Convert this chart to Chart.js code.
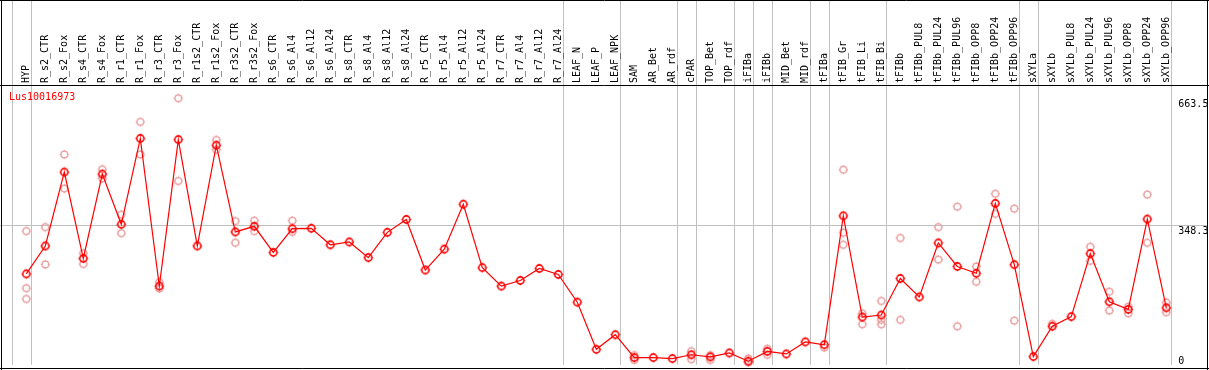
<!DOCTYPE html>
<html><head><meta charset="utf-8">
<script src="https://cdn.jsdelivr.net/npm/chart.js@4.4.1/dist/chart.umd.min.js"></script>
<style>html,body{margin:0;padding:0;background:#fff;overflow:hidden}canvas{display:block}</style>
</head><body>
<canvas id="c" width="1209" height="370"></canvas>
<script>
const categories = ['HYP','R_s2_CTR','R_s2_Fox','R_s4_CTR','R_s4_Fox','R_r1_CTR','R_r1_Fox','R_r3_CTR','R_r3_Fox','R_r1s2_CTR','R_r1s2_Fox','R_r3s2_CTR','R_r3s2_Fox','R_s6_CTR','R_s6_Al4','R_s6_Al12','R_s6_Al24','R_s8_CTR','R_s8_Al4','R_s8_Al12','R_s8_Al24','R_r5_CTR','R_r5_Al4','R_r5_Al12','R_r5_Al24','R_r7_CTR','R_r7_Al4','R_r7_Al12','R_r7_Al24','LEAF_N','LEAF_P','LEAF_NPK','SAM','AR_Bet','AR_rdf','cPAR','TOP_Bet','TOP_rdf','iFIBa','iFIBb','MID_Bet','MID_rdf','tFIBa','tFIB_Gr','tFIB_Li','tFIB_Bi','tFIBb','tFIBb_PUL8','tFIBb_PUL24','tFIBb_PUL96','tFIBb_OPP8','tFIBb_OPP24','tFIBb_OPP96','sXYLa','sXYLb','sXYLb_PUL8','sXYLb_PUL24','sXYLb_PUL96','sXYLb_OPP8','sXYLb_OPP24','sXYLb_OPP96'];
const meanValues = [226.5,296,480,265,475,350,564,196,561,296,547,331,345,280,339,340,299,306,267,330,362,236,288,400,242,196,210,240,225,156,38.5,75,18,18,15.5,25,19.6,29.4,9,33.5,27,57,50,371,119,124,215,169,303.5,245,228,402,249.5,20.4,96,120,277,157,138,363,142];
const rep1 = [333,343,524,278,487,374,605,206,664,null,560,358,359,null,359,null,null,null,null,null,null,null,null,null,null,null,null,null,null,null,null,null,24,null,null,34,24,null,16,40,null,null,43,486,128,159,316,null,343,394,245,426,389,null,102,null,294,182,145,424,155];
const rep2 = [191,250,439,251,464,328,524,190,458,null,536,304,333,null,331,null,null,null,null,null,null,null,null,null,null,null,null,null,null,null,null,null,12,null,null,14,12,null,6,25,null,null,null,329,101,112,112,null,262,96,207,376,110,null,null,null,259,135,128,304,131];
const rep3 = [164,null,null,null,null,null,null,null,null,null,null,null,null,null,null,null,null,null,null,null,null,null,null,null,null,null,null,null,null,null,null,null,null,null,null,null,null,null,null,null,null,null,null,299,null,101,null,null,null,null,null,null,null,null,null,null,null,null,null,null,null];
const yTickValues = [0, 348.3, 663.5];
const yTickLabels = ['0', '348.3', '663.5'];
const gridValues = [348.3];
const groupBreaks = [-1,0,28,31,34,35,37,38,39,41,42,45,52,53,60];
const geneName = 'Lus10016973';

function makeMarker(color, lw, r) {
  const s = 2 * Math.ceil(r + 3) + 1;
  const cv = document.createElement('canvas');
  cv.width = s; cv.height = s;
  const g = cv.getContext('2d');
  const c = s / 2;
  g.strokeStyle = color;
  g.lineWidth = lw;
  g.beginPath(); g.arc(c, c, r, 0, Math.PI * 2); g.stroke();
  g.lineWidth = 1;
  g.beginPath();
  g.moveTo(c, c - r - 1.2); g.lineTo(c, c - r);
  g.moveTo(c, c + r + 1.2); g.lineTo(c, c + r);
  g.moveTo(c - r - 1.2, c); g.lineTo(c - r, c);
  g.moveTo(c + r + 1.2, c); g.lineTo(c + r, c);
  g.stroke();
  return cv;
}
const meanMarker = makeMarker('#ff0000', 1.6, 3.6);
const repMarker = makeMarker('#e89a9a', 1.3, 3.4);

const FONT = '10px "DejaVu Sans Mono", monospace';

const decor = {
  id: 'decor',
  beforeDatasetsDraw(chart) {
    const ctx = chart.ctx;
    const xs = chart.scales.x, ys = chart.scales.y;
    const step = xs.getPixelForValue(1) - xs.getPixelForValue(0);
    const bottom = chart.chartArea.bottom;
    ctx.save();
    ctx.strokeStyle = '#c0c0c0';
    ctx.lineWidth = 1;
    groupBreaks.forEach(i => {
      const x = Math.round(xs.getPixelForValue(0) + (i + 0.23) * step) + 0.5;
      ctx.beginPath(); ctx.moveTo(x, 0); ctx.lineTo(x, bottom); ctx.stroke();
    });
    gridValues.forEach(v => {
      const y = Math.round(ys.getPixelForValue(v)) + 0.5;
      ctx.beginPath(); ctx.moveTo(0, y); ctx.lineTo(1208, y); ctx.stroke();
    });
    // frame
    ctx.strokeStyle = '#000';
    ctx.beginPath();
    ctx.moveTo(0, 0.5); ctx.lineTo(1209, 0.5);
    ctx.moveTo(0, 85.5); ctx.lineTo(1209, 85.5);
    ctx.moveTo(0, 368.5); ctx.lineTo(1209, 368.5);
    ctx.moveTo(1.5, 0); ctx.lineTo(1.5, 370);
    ctx.moveTo(1207.5, 0); ctx.lineTo(1207.5, 370);
    ctx.stroke();
    // category labels
    ctx.fillStyle = '#000';
    ctx.font = FONT;
    ctx.textAlign = 'left';
    ctx.textBaseline = 'middle';
    categories.forEach((lab, i) => {
      const x = xs.getPixelForValue(i);
      ctx.save();
      ctx.translate(x, 83);
      ctx.rotate(-Math.PI / 2);
      ctx.fillText(lab, 0, 0);
      ctx.restore();
    });
    // y tick labels
    ctx.textBaseline = 'top';
    yTickValues.forEach((v, k) => {
      let y = ys.getPixelForValue(v) + 1;
      if (y > 356) y = 356;
      ctx.fillText(yTickLabels[k], chart.chartArea.right + 2.5, y);
    });
    // gene name
    ctx.fillStyle = '#ff0000';
    ctx.textBaseline = 'middle';
    ctx.fillText(geneName, 9, 97);
    ctx.restore();
  }
};

new Chart(document.getElementById('c'), {
  type: 'line',
  data: {
    labels: categories,
    datasets: [
      { data: meanValues, borderColor: '#ff0000', borderWidth: 1.2, pointStyle: meanMarker, pointRadius: 4, pointHoverRadius: 4, tension: 0, clip: false, fill: false },
      { data: rep1, showLine: false, pointStyle: repMarker, pointRadius: 4, clip: false },
      { data: rep2, showLine: false, pointStyle: repMarker, pointRadius: 4, clip: false },
      { data: rep3, showLine: false, pointStyle: repMarker, pointRadius: 4, clip: false }
    ]
  },
  options: {
    responsive: false,
    animation: false,
    devicePixelRatio: 1,
    layout: { padding: { left: 16.8, right: 33.2, top: 85, bottom: 1 } },
    plugins: { legend: { display: false }, tooltip: { enabled: false } },
    events: [],
    scales: {
      x: { type: 'category', offset: true, display: false },
      y: { min: 0, max: 697, display: false }
    }
  },
  plugins: [decor]
});
</script>
</body></html>
